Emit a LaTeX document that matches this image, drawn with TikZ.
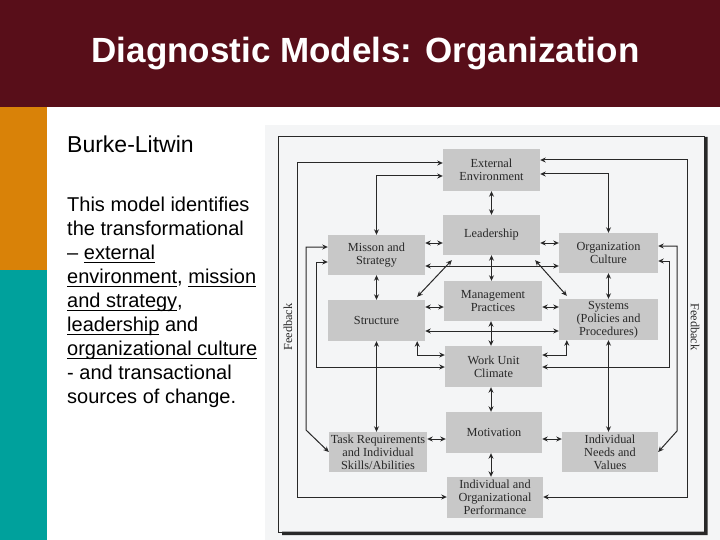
\documentclass[tikz,border=0pt]{standalone}
\usepackage{fontspec}
\setmainfont{Liberation Sans}
\newfontfamily\scanfont{Liberation Serif}
\usetikzlibrary{arrows.meta}
\definecolor{hdr}{RGB}{88,14,25}
\definecolor{orangebar}{RGB}{217,130,8}
\definecolor{tealbar}{RGB}{0,161,156}
\definecolor{paper}{RGB}{244,245,246}
\definecolor{boxgray}{RGB}{200,200,200}
\definecolor{ink}{RGB}{40,40,40}
\newcommand\myul[1]{\setbox0\hbox{#1}\rlap{\rule[-3.5pt]{\wd0}{1.4pt}}\box0\relax}
\begin{document}
\begin{tikzpicture}[x=1pt,y=-1pt,
  box/.style={fill=boxgray, draw=none, align=center, inner sep=0pt,
    font=\scanfont\fontsize{12.3}{13}\selectfont, text=ink},
  arr/.style={draw=ink, line width=1pt, {Stealth[length=5.5pt,width=5pt]}-{Stealth[length=5.5pt,width=5pt]}},
  body/.style={anchor=base west, inner sep=0pt, font=\fontsize{20}{24}\selectfont}]
\useasboundingbox (0,0) rectangle (720,540);
% slide background
\fill[white] (0,0) rectangle (720,540);
\fill[hdr] (0,0) rectangle (720,107);
\fill[orangebar] (0,107) rectangle (47,270);
\fill[tealbar] (0,270) rectangle (47,540);
\node[anchor=base, text=white, inner sep=0pt, font=\bfseries\fontsize{35}{40}\selectfont] (title) at (365.5,63) {Diagnostic Models: Organization};
% left text
\node[body, font=\fontsize{23}{26}\selectfont] (bl) at (67,153) {Burke-Litwin};
\node[body] (l1) at (67,211.5) {This model identifies};
\node[body] (l2) at (67,235.5) {the transformational};
\node[body] (l3) at (67,259.5) {– \myul{external}};
\node[body] (l4) at (67,283.5) {\myul{environment}, \myul{mission}};
\node[body] (l5) at (67,307.5) {\myul{and strategy},};
\node[body] (l6) at (67,331.5) {\myul{leadership} and};
\node[body] (l7) at (67,355.5) {\myul{organizational culture}};
\node[body] (l8) at (67,379.5) {- and transactional};
\node[body] (l9) at (67,403.5) {sources of change.};
% scanned figure
\fill[paper] (265,125) rectangle (720,540);
\draw[ink, line width=1pt] (278,137) rectangle (704,532);
\fill[ink] (704,137) rectangle (707.5,535) (282,531.5) rectangle (707.5,535);
\node[box, minimum width=97, minimum height=42] (ee) at (491.5,170) {External\\Environment};
\node[box, minimum width=97, minimum height=40] (lead) at (491.5,235) {Leadership};
\node[box, minimum width=97, minimum height=40] (mis) at (376.5,255) {Misson and\\Strategy};
\node[box, minimum width=99, minimum height=40] (cul) at (608.5,253) {Organization\\Culture};
\node[box, minimum width=98, minimum height=40] (mp) at (493,301) {Management\\Practices};
\node[box, minimum width=97, minimum height=41] (str) at (376.5,320.5) {Structure};
\node[box, minimum width=99, minimum height=41] (sys) at (608.5,319.5) {Systems\\(Policies and\\Procedures)};
\node[box, minimum width=97, minimum height=41] (wuc) at (493.5,366.5) {Work Unit\\Climate};
\node[box, minimum width=96, minimum height=41] (mot) at (494,432.5) {Motivation};
\node[box, minimum width=98, minimum height=40] (task) at (378,452) {Task Requirements\\and Individual\\Skills/Abilities};
\node[box, minimum width=96, minimum height=40] (need) at (610,452) {Individual\\Needs and\\Values};
\node[box, minimum width=96, minimum height=41] (perf) at (495,497.5) {Individual and\\Organizational\\Performance};
\node[rotate=90, inner sep=0pt, text=ink, font=\scanfont\fontsize{12.3}{13}\selectfont] (fbl) at (288,327) {Feedback};
\node[rotate=-90, inner sep=0pt, text=ink, font=\scanfont\fontsize{12.3}{13}\selectfont] (fbr) at (695,327) {Feedback};
% feedback loops
\draw[arr] (ee.west |- 0,163) -| (297,497) -- (perf.west |- 0,497);
\draw[arr] (ee.east |- 0,160) -| (687,497) -- (perf.east |- 0,497);
\draw[arr] (mis.west |- 0,247) -| (306,430) -- (task.west);
\draw[arr] (mis.west |- 0,262) -| (316,367) -- (wuc.west |- 0,367);
\draw[arr] (cul.east |- 0,246) -| (677,431) -- (need.east);
\draw[arr] (cul.east |- 0,261) -| (669,367) -- (wuc.east |- 0,367);
% top links
\draw[arr] (ee.west |- 0,176) -| (mis.north);
\draw[arr] (ee.east |- 0,174) -| (cul.north);
\draw[arr] (ee.south) -- (lead.north);
\draw[arr] (mis.east |- 0,243) -- (lead.west |- 0,243);
\draw[arr] (lead.east |- 0,243) -- (cul.west |- 0,243);
\draw[arr] (mis.south) -- (str.north);
\draw[arr] (cul.south) -- (sys.north);
\draw[arr] (lead.south) -- (lead.south |- mp.north);
\draw[arr] ([xshift=9pt,yshift=-5pt]lead.south west) -- ([xshift=-8pt,yshift=3pt]str.north east);
\draw[arr] ([xshift=-5pt,yshift=-5pt]lead.south east) -- ([xshift=8pt,yshift=3pt]sys.north west);
\draw[arr] (mis.east |- 0,266) -- (cul.west |- 0,266);
% middle links
\draw[arr] (str.east |- 0,307) -- (mp.west |- 0,307);
\draw[arr] (mp.east |- 0,307) -- (sys.west |- 0,307);
\draw[arr] (str.east |- 0,331) -- (sys.west |- 0,331);
\draw[arr] (mp.south -| 491,0) -- (wuc.north -| 491,0);
\draw[arr] ([xshift=-8pt]str.south east) |- (wuc.west |- 0,355);
\draw[arr] ([xshift=8pt]sys.south west) |- (wuc.east |- 0,355);
\draw[arr] (wuc.south -| 491,0) -- (mot.north -| 491,0);
\draw[arr] (str.south) -- (str.south |- task.north);
\draw[arr] (sys.south) -- (sys.south |- need.north);
% bottom links
\draw[arr] (task.east |- 0,439) -- (mot.west |- 0,439);
\draw[arr] (mot.east |- 0,439) -- (need.west |- 0,439);
\draw[arr] (mot.south -| 491,0) -- (perf.north -| 491,0);
\end{tikzpicture}
\end{document}
